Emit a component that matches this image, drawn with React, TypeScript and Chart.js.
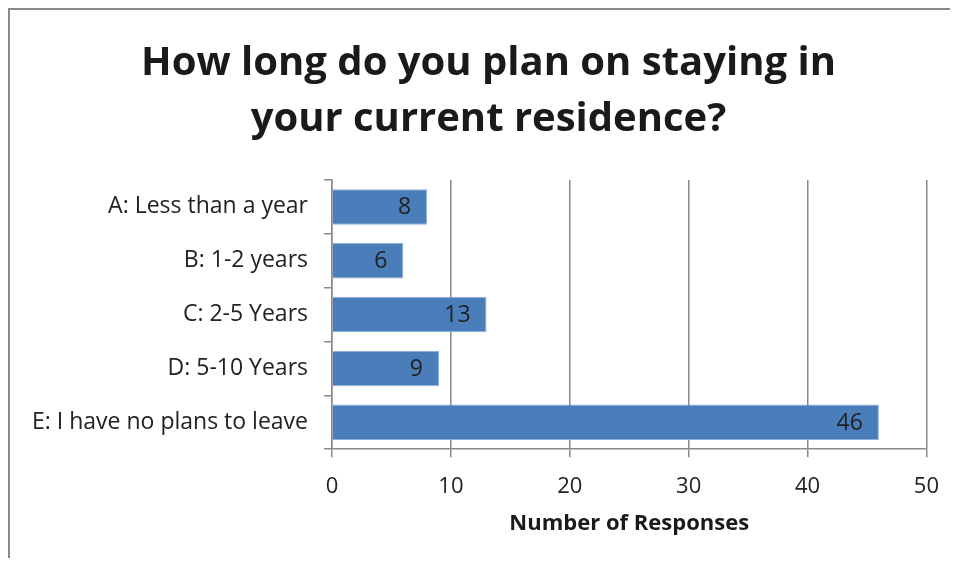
import React, { useEffect, useRef } from "react";
import { Chart, registerables } from "chart.js";

Chart.register(...registerables);

const categories = [
  "A: Less than a year",
  "B: 1-2 years",
  "C: 2-5 Years",
  "D: 5-10 Years",
  "E: I have no plans to leave",
];
const responses = [8, 6, 13, 9, 46];
const titleLines = ["How long do you plan on staying in", "your current residence?"];
const xAxisTitle = "Number of Responses";

const FONT = "'Open Sans', 'Liberation Sans', sans-serif";

const valueLabels = {
  id: "valueLabels",
  afterDatasetsDraw(chart: any) {
    const ctx = chart.ctx;
    const meta = chart.getDatasetMeta(0);
    ctx.save();
    ctx.font = `23px ${FONT}`;
    ctx.fillStyle = "#222";
    ctx.textAlign = "right";
    ctx.textBaseline = "middle";
    meta.data.forEach((el: any, i: number) => {
      ctx.fillText(String(chart.data.datasets[0].data[i]), el.x - 16, el.y + 1);
    });
    ctx.restore();
  },
};

// shift the title's box so it is centred like the original (slightly right of canvas centre)
const titleShift = {
  id: "titleShift",
  afterLayout(chart: any) {
    if (chart.titleBlock) chart.titleBlock.left += 34;
  },
};

export default function App() {
  const ref = useRef<HTMLCanvasElement>(null);
  useEffect(() => {
    const chart = new Chart(ref.current!, {
      type: "bar",
      data: {
        labels: categories,
        datasets: [
          {
            data: responses,
            backgroundColor: "#4a7ebb",
            borderColor: "#8fb0dc",
            borderWidth: 1,
            barPercentage: 0.66,
            categoryPercentage: 1,
          },
        ],
      },
      options: {
        indexAxis: "y",
        animation: false,
        responsive: false,
        layout: { padding: { left: 0, right: 25, top: 0, bottom: 16 } },
        plugins: {
          legend: { display: false },
          tooltip: { enabled: false },
          title: {
            display: true,
            text: titleLines,
            color: "#1a1a1a",
            font: { family: FONT, size: 40, weight: "bold", lineHeight: 1.4 },
            padding: { top: 26, bottom: 32 },
          },
        },
        scales: {
          x: {
            min: 0,
            max: 50,
            ticks: { stepSize: 10, color: "#222", font: { family: FONT, size: 22, lineHeight: 1 }, padding: 19 },
            grid: { color: "#8a8a8a", lineWidth: 1.5, tickLength: 8, drawTicks: true },
            border: { color: "#8a8a8a", width: 1.5 },
            title: {
              display: true,
              text: xAxisTitle,
              color: "#1a1a1a",
              font: { family: FONT, size: 22, weight: "bold", lineHeight: 0.9 },
              padding: { top: -3, bottom: 8 },
            },
          },
          y: {
            ticks: { color: "#222", font: { family: FONT, size: 23 }, padding: 16 },
            grid: { drawOnChartArea: false, color: "#8a8a8a", lineWidth: 1.5, tickLength: 8, offset: true },
            border: { color: "#8a8a8a", width: 1.5 },
            afterFit(scale: any) {
              scale.width = 322;
            },
          },
        },
      },
      plugins: [valueLabels, titleShift],
    } as any);
    return () => chart.destroy();
  }, []);
  return (
    <div
      style={{
        width: 948,
        height: 548,
        borderLeft: "2px solid #8a8a8a",
        borderTop: "2px solid #8a8a8a",
        background: "#fff",
      }}
    >
      <canvas ref={ref} width={948} height={548} style={{ display: "block" }} />
    </div>
  );
}
